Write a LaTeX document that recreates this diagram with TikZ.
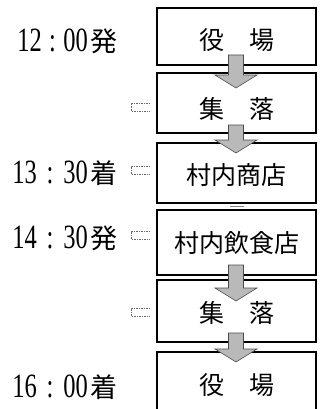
\documentclass[tikz,border=0pt]{standalone}
\usepackage{fontspec}
\usepackage{graphicx}
\setmainfont{Liberation Serif}
\newfontfamily\cjk{Noto Sans CJK JP}
\usetikzlibrary{calc}
\tikzset{
  stopbox/.style={draw=black, line width=1.6pt, minimum width=159pt, inner sep=0pt},
  boxtext/.style={font=\cjk\fontsize{25}{25}\selectfont, inner sep=0pt},
  timetext/.style={anchor=east, inner sep=0pt},
  flowarrow/.style={fill=gray!55, draw=black!70, line width=0.6pt},
  marker/.style={draw=black!60, dashed, dash pattern=on 1.5pt off 1pt, line width=0.7pt}
}
\newcommand{\tlabel}[2]{\scalebox{0.72}[1]{\fontsize{34}{34}\selectfont #1}\hspace{3pt}{\cjk\fontsize{27}{27}\selectfont #2}}
\newcommand{\flowarr}[3]{% x, top, tip
  \path[flowarrow] (#1-7.5,#2) -- (#1+7.5,#2) -- (#1+7.5,#3-13) -- (#1+21,#3-13) -- (#1,#3) -- (#1-21,#3-13) -- (#1-7.5,#3-13) -- cycle;}
\begin{document}
\begin{tikzpicture}[x=1pt,y=-1pt]
\useasboundingbox (0,0) rectangle (322,409);
% boxes
\node[stopbox, minimum height=57pt] (b1) at (236.5,36.5) {};
\node[stopbox, minimum height=60pt] (b2) at (236.5,103) {};
\node[stopbox, minimum height=60pt] (b3) at (236.5,173) {};
\node[stopbox, minimum height=65pt] (b4) at (236.5,242.5) {};
\node[stopbox, minimum height=62pt] (b5) at (236.5,311) {};
\node[stopbox, minimum height=64pt] (b6) at (236.5,384) {};
% box texts
\node[boxtext] (t1) at ($(b1.center)+(0,4)$) {役　場};
\node[boxtext] (t2) at ($(b2.center)+(0,6)$) {集　落};
\node[boxtext] (t3) at ($(b3.center)+(0,2)$) {村内商店};
\node[boxtext] (t4) at ($(b4.center)+(0,1)$) {村内飲食店};
\node[boxtext] (t5) at ($(b5.center)+(0,2)$) {集　落};
\node[boxtext] (t6) at ($(b6.center)+(0,1)$) {役　場};
% arrows
\flowarr{236}{55}{88}
\flowarr{236}{125}{153}
\flowarr{236}{265}{301}
\flowarr{236}{333}{362}
% small gap mark between b3 and b4
\draw[black!50, line width=0.8pt] (230,206) -- (244,206);
% time labels
\node[timetext] (l1) at (118,41) {\tlabel{12\hspace{0.3em}:\hspace{0.3em}00}{発}};
\node[timetext] (l2) at (118,173) {\tlabel{13\hspace{0.4em}:\hspace{0.4em}30}{着}};
\node[timetext] (l3) at (118,238) {\tlabel{14\hspace{0.4em}:\hspace{0.4em}30}{発}};
\node[timetext] (l4) at (118,387) {\tlabel{16\hspace{0.4em}:\hspace{0.4em}00}{着}};
% dashed markers
\coordinate (m2) at (b2.west |- 0,107);
\coordinate (m3) at (b3.west |- 0,170);
\coordinate (m4) at (b4.west |- 0,235);
\coordinate (m5) at (b5.west |- 0,312);
\foreach \m in {m2,m3,m4,m5}{
  \draw[marker] ($(\m)+(-6,-4)$) -- ($(\m)+(-25,-4)$) -- ($(\m)+(-25,4)$) -- ($(\m)+(-6,4)$);
}
\end{tikzpicture}
\end{document}
